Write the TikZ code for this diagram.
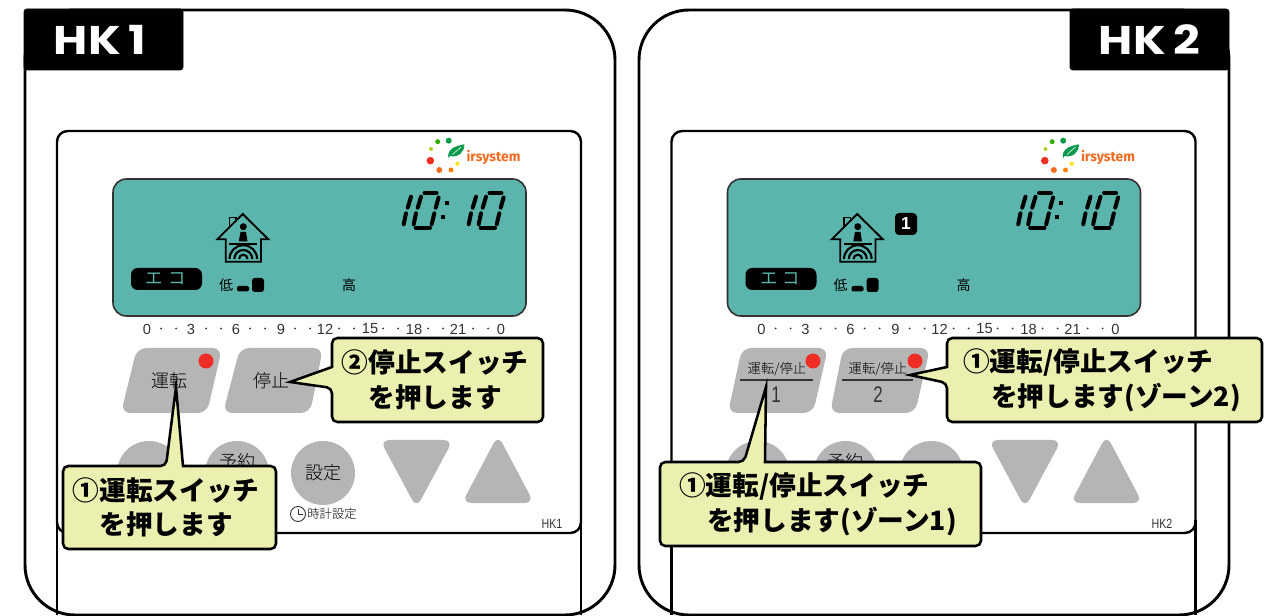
\documentclass[tikz,border=0pt]{standalone}
\usepackage{fontspec}
\usepackage{graphicx}
\usetikzlibrary{positioning}
\setmainfont{Liberation Sans}
\newfontfamily\cjk{Noto Sans CJK JP}
\newfontfamily\cjklight[UprightFont={* Light}]{Noto Sans CJK JP}
\newfontfamily\tagfont{Poppins}
\newfontfamily\logofont{Fira Sans}

\definecolor{lcdteal}{HTML}{5BB5AC}
\definecolor{keygray}{HTML}{B5B5B5}
\definecolor{ledred}{HTML}{EE2E24}
\definecolor{noteyellow}{HTML}{EBF0B0}
\definecolor{leafgreen}{HTML}{0A9A4E}
\definecolor{logoorange}{HTML}{F26B21}
\definecolor{inkgray}{HTML}{333333}

\tikzset{
    shell/.style={draw=black, line width=2.2pt, fill=white, rounded corners=37.5pt},
    plate/.style={draw=black, line width=1.8pt, rounded corners=8pt},
    tagbox/.style={fill=black, draw=black, rounded corners=2pt},
    lcd/.style={fill=lcdteal, draw=inkgray, line width=1.2pt, rounded corners=10pt},
    keyshape/.style={fill=keygray, rounded corners=7pt},
    led/.style={fill=ledred},
    seg/.style={line width=3pt, line cap=round, black},
    note/.style={fill=noteyellow, draw=black, line width=1.9pt, rounded corners=4pt},
    notetext/.style={font=\cjk\bfseries\fontsize{20}{26}\selectfont, inner sep=0pt},
    keytext/.style={font=\cjklight\fontsize{13.5}{15}\selectfont, text=black, inner sep=0pt},
    smalltext/.style={font=\cjklight\fontsize{10}{12}\selectfont, text=black, inner sep=0pt},
    tagtext/.style={font=\tagfont\bfseries\fontsize{30}{31}\selectfont, text=white, inner sep=0pt}
}

% one "10" of the clock
\newcommand{\segten}{
    \draw[seg] (411,196.7) -- (407.7,207.7);
    \draw[seg] (406,213.3) -- (403.7,224.3);
    \draw[seg] (421,196.7) -- (417.7,207.7);
    \draw[seg] (416,213.3) -- (413.7,224.3);
    \draw[seg] (424.5,193) -- (436.5,193);
    \draw[seg] (438.6,197.5) -- (435.7,207.7);
    \draw[seg] (434.3,213.3) -- (431.7,224.3);
    \draw[seg] (415.7,227.7) -- (430,227.7);
}

\begin{document}
\begin{tikzpicture}[x=.75pt,y=-.75pt]
    \useasboundingbox (0,0) rectangle (1271,616);

    % outer shells
    \draw[shell] (25,10) rectangle (615,615);
    \draw[shell] (639,10) rectangle (1229,615);

    \foreach \dx/\tg in {0/a,614.5/b}{
        \begin{scope}[shift={(\dx,0)}]
            % plate, its side lines run on to the bottom
            \draw[plate] (57,131) rectangle (581,533);
            \draw[line width=1.8pt] (57,520) -- (57,615);
            \draw[line width=1.8pt] (581,520) -- (581,615);

            % display
            \draw[lcd] (113,179) rectangle (526,316);
            \segten
            \begin{scope}[shift={(65,0)}]
                \segten
            \end{scope}
            \fill (444.7,201.3) rectangle (448.7,205.3);
            \fill (440.7,215.3) rectangle (444.7,219.3);

            % house
            \draw[line width=1.3pt, fill=lcdteal] (229.5,228) -- (229.5,217.5) -- (236,217.5) -- (236,222);
            \draw[line width=1.4pt, line join=miter] (225.7,239.3) -- (217.3,239.3) -- (242.7,214) -- (268.3,239.3) -- (261,239.3) -- (261,261.7) -- (225.7,261.7) -- cycle;
            \fill (243.3,226.7) circle (3.5);
            \fill (240.5,232) -- (246,232) -- (247.5,241.5) -- (238.8,241.5) -- cycle;
            \draw[line width=1.3pt] (229,243.7) -- (257,243.7);
            \draw[line width=1.6pt] (229.5,259) arc (180:360:13.8);
            \draw[line width=1.6pt] (234.3,259) arc (180:360:9);
            \draw[line width=1.6pt] (239,259) arc (180:360:4.3);

            % eco badge and fan speed
            \fill[rounded corners=5pt] (131,268) rectangle (202,290);
            \node[font=\cjk\fontsize{13}{14}\selectfont, text=lcdteal, inner sep=0pt] (eco\tg) at (165.5,279) {エ\hspace{4pt}コ};
            \node[smalltext, font=\cjk\fontsize{10.5}{12}\selectfont] (low\tg) at (226,285) {低};
            \fill[rounded corners=1.5pt] (237,286) rectangle (249,291.5);
            \fill[rounded corners=2pt] (252,278) rectangle (264,292);
            \node[smalltext, font=\cjk\fontsize{10.5}{12}\selectfont] (high\tg) at (349,285) {高};

            % hour scale
            \foreach \lx/\lab in {147/0,191/3,236/6,281/9,325/12,370/15,414/18,458/21,501/0}{
                \node[font=\fontsize{11}{12}\selectfont, text=inkgray, inner sep=0pt] (hr\tg\lab\lx) at (\lx,329) {\lab};
            }
            \foreach \ldot in {161,176,206,221,250,265,295,310,339,354,383,398,428,443,473,488}{
                \fill[inkgray] (\ldot,328.5) circle (1);
            }

            % logo
            \fill[leafgreen] (448.7,140.7) circle (3);
            \fill[green!60!black!80!yellow] (437.7,141.7) circle (2.5);
            \fill[yellow!75!green!90!black] (431,149) circle (2);
            \fill[ledred] (430.3,160.7) circle (3.8);
            \fill[logoorange] (439.3,170) circle (3);
            \fill[orange] (451,170) circle (2.5);
            \fill[yellow!85!orange] (457.3,163.7) circle (2);
            \fill[leafgreen] (448.3,158.3) .. controls (447,149) and (455,146) .. (464.3,144.3) .. controls (465,152) and (458,158) .. (450,156) -- cycle;
            \draw[white, line width=.4pt] (452.5,154.5) -- (461,147);
            \node[font=\logofont\bfseries\fontsize{10.4}{12}\selectfont, text=logoorange, inner sep=0pt] (logo\tg) at (493.5,157.3) {irsystem};
        \end{scope}
    }

    % name tabs
    \draw[tagbox] (24,9) rectangle (183,70);
    \node[tagtext] (tagone) at (100,40) {\scalebox{1.17}[1]{HK\hspace{5pt}1}};
    \draw[tagbox] (1070,9) rectangle (1229,70);
    \node[tagtext] (tagtwo) at (1149.5,40) {\scalebox{1.17}[1]{HK\hspace{5pt}2}};

    % keys, left remote
    \fill[keyshape] (137,348) -- (222,348) -- (207,413) -- (121,413) -- cycle;
    \fill[keyshape] (240,348) -- (323,348) -- (310,413) -- (223,413) -- cycle;
    \fill[led] (206,361) circle (7.5);
    \node[keytext] (run) at (169,381) {運転};
    \node[keytext] (stop) at (271,381) {停止};

    % keys, right remote
    \fill[keyshape] (742,348) -- (828,348) -- (813,413) -- (728,413) -- cycle;
    \fill[keyshape] (843,348) -- (930,348) -- (915,413) -- (830,413) -- cycle;
    \fill[led] (813,361) circle (7.5);
    \fill[led] (915,361) circle (7.5);
    \node[smalltext] (runstopa) at (777,369) {運転/停止};
    \node[smalltext] (runstopb) at (878,369) {運転/停止};
    \draw[inkgray, line width=.8pt] (740,380) -- (813,380);
    \draw[inkgray, line width=.8pt] (842,380) -- (913,380);
    \node[font=\fontsize{17}{18}\selectfont, text=inkgray, inner sep=0pt] (zonea) at (776,395) {\scalebox{.75}[1]{1}};
    \node[font=\fontsize{17}{18}\selectfont, text=inkgray, inner sep=0pt] (zoneb) at (878,395) {\scalebox{.75}[1]{2}};

    % round keys and arrow keys
    \foreach \bx/\tg in {0/a,608.5/b}{
        \begin{scope}[shift={(\bx,0)}]
            \fill[keygray] (149,473) circle (32);
            \fill[keygray] (237,473) circle (32);
            \fill[keygray] (323,473) circle (32);
            \node[keytext] (yoyaku\tg) at (237,462) {予約};
            \fill[keyshape] (380,440) -- (453,440) -- (416.5,508) -- cycle;
            \fill[keyshape] (498,435) -- (534,503) -- (462,503) -- cycle;
        \end{scope}
    }
    \node[keytext] (settei) at (323,473) {設定};
    \draw[inkgray, line width=.7pt] (298,514) circle (7.5);
    \draw[inkgray, line width=.7pt] (298,509) -- (298,514.5) -- (303,514.5);
    \node[smalltext, font=\cjklight\fontsize{9.2}{11}\selectfont] (clock) at (332,514) {時計設定};
    \node[font=\fontsize{10}{11}\selectfont, text=inkgray, inner sep=0pt] (modela) at (552,524) {\scalebox{.8}[1]{HK1}};
    \node[font=\fontsize{10}{11}\selectfont, text=inkgray, inner sep=0pt] (modelb) at (1162,524) {\scalebox{.8}[1]{HK2}};

    % callouts
    \coordinate (tipa) at (176,387);
    \coordinate (tipb) at (290,382);
    \coordinate (tipc) at (766,387);
    \coordinate (tipd) at (910,375);

    \draw[note] (63,466) -- (166,466) [sharp corners] -- (tipa) -- (183,466) [rounded corners=4pt] -- (276,466) -- (276,549) -- (63,549) -- cycle;
    \node[notetext, align=center] (notea) at (166,507.5) {①運転スイッチ\\を押します};

    \draw[note] (332,338) -- (543,338) -- (543,422) -- (332,422) -- (332,388) [sharp corners] -- (tipb) -- (332,367) [rounded corners=4pt] -- cycle;
    \node[notetext, align=center] (noteb) at (435,380) {②停止スイッチ\\を押します};

    \draw[note] (660,462) -- (744,462) [sharp corners] -- (tipc) -- (765,462) [rounded corners=4pt] -- (981,462) -- (981,546) -- (660,546) -- cycle;
    \node[notetext, align=left, anchor=west] (notec) at (679,504) {①運転/停止スイッチ\\\hspace{21pt}を押します(ゾーン1)};

    \draw[note] (947,338) -- (1262,338) -- (1262,422) -- (947,422) -- (947,383) [sharp corners] -- (tipd) -- (947,367) [rounded corners=4pt] -- cycle;
    \node[notetext, align=left, anchor=west] (noted) at (963,380) {①運転/停止スイッチ\\\hspace{21pt}を押します(ゾーン2)};

    % zone badge
    \fill[rounded corners=3pt] (895,213) rectangle (917,235);
    \node[font=\bfseries\fontsize{13}{14}\selectfont, text=white, inner sep=0pt] (badge) at (906,224) {1};
\end{tikzpicture}
\end{document}
